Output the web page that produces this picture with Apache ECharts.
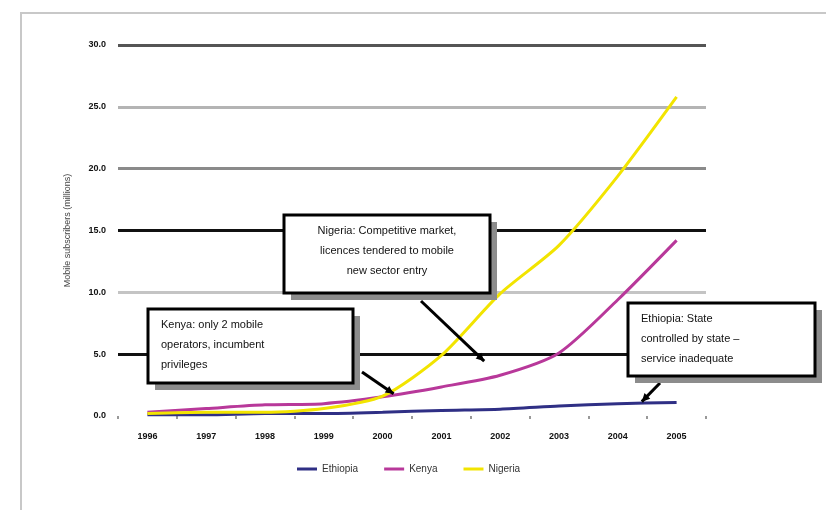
<!DOCTYPE html>
<html>
<head>
<meta charset="utf-8">
<script src="https://cdn.jsdelivr.net/npm/echarts@6/dist/echarts.min.js"></script>
<style>
  html, body { margin: 0; padding: 0; background: #fff; }
  #chart { width: 826px; height: 510px; }
</style>
</head>
<body>
<div id="chart"></div>
<script>
// Mobile subscribers, millions, 1996-2005
var years = ['1996', '1997', '1998', '1999', '2000', '2001', '2002', '2003', '2004', '2005'];
var ethiopia = [0.1, 0.1, 0.2, 0.2, 0.3, 0.45, 0.55, 0.8, 1.0, 1.1];
var kenya    = [0.3, 0.6, 0.9, 1.0, 1.55, 2.35, 3.3, 5.1, 9.4, 14.2];
var nigeria  = [0.2, 0.3, 0.3, 0.6, 1.6, 4.9, 9.9, 13.8, 19.4, 25.8];
var yTicks   = [0, 5, 10, 15, 20, 25, 30];
var seriesNames = ['Ethiopia', 'Kenya', 'Nigeria'];
var axisTitle = 'Mobile subscribers (millions)';

// Callout notes: text lines, alignment and which series/year the pointer refers to
var notes = [
  { lines: ['Kenya: only 2 mobile', 'operators, incumbent', 'privileges'], align: 'left',
    box: [148, 309, 205, 74], from: [362, 372], series: 1, year: '2000', off: [11, -3] },
  { lines: ['Nigeria: Competitive market,', 'licences tendered to mobile', 'new sector entry'], align: 'center',
    box: [284, 215, 206, 78], from: [421, 301], series: 1, year: '2002', off: [-16, -14] },
  { lines: ['Ethiopia: State', 'controlled by state \u2013', 'service inadequate'], align: 'left',
    box: [628, 303, 187, 73], from: [660, 383], series: 0, year: '2004', off: [24, -2] }
];

var colors = ['#2f2f85', '#b8389a', '#f2e400'];
var gridColors = ['rgba(0,0,0,0)', '#111111', '#c4c4c4', '#111111', '#8a8a8a', '#b4b4b4', '#555555'];
var seriesData = [ethiopia, kenya, nigeria];

var chart = echarts.init(document.getElementById('chart'), null, { renderer: 'canvas' });

var option = {
  animation: false,
  backgroundColor: '#ffffff',
  textStyle: { fontFamily: 'Liberation Sans, Arial, sans-serif' },
  grid: { left: 118, right: 120, top: 45, bottom: 94 },
  legend: {
    data: seriesNames,
    left: 292, top: 459,
    itemWidth: 20, itemHeight: 3, itemGap: 26,
    icon: 'rect',
    textStyle: { fontSize: 10, color: '#333' }
  },
  xAxis: {
    type: 'category',
    data: years,
    boundaryGap: true,
    axisLine: { show: false },
    axisTick: { show: true, length: 3, inside: false, lineStyle: { color: '#999', width: 2 } },
    axisLabel: { fontSize: 9, color: '#111', margin: 16, fontWeight: 'bold' }
  },
  yAxis: {
    type: 'value',
    min: yTicks[0], max: yTicks[yTicks.length - 1], interval: 5,
    name: axisTitle,
    nameLocation: 'middle',
    nameGap: 46,
    nameRotate: 90,
    nameTextStyle: { fontSize: 9, color: '#444' },
    axisLine: { show: false },
    axisTick: { show: false },
    axisLabel: {
      fontSize: 9, color: '#111', fontWeight: 'bold', margin: 12,
      formatter: function (v) { return v.toFixed(1); }
    },
    splitLine: { show: true, lineStyle: { color: gridColors, width: 3 } }
  },
  series: seriesNames.map(function (name, i) {
    return {
      name: name,
      type: 'line',
      data: seriesData[i],
      smooth: 0.25,
      showSymbol: false,
      symbol: 'none',
      lineStyle: { color: colors[i], width: 3 },
      itemStyle: { color: colors[i] },
      z: 3 + i
    };
  })
};

chart.setOption(option);

// Callout boxes with shadows and pointer arrows, tips anchored to data points
function buildNotes() {
  var els = [];
  // outer chart frame
  els.push({
    type: 'rect', z: 0, silent: true,
    shape: { x: 21, y: 13, width: 900, height: 600 },
    style: { fill: 'none', stroke: '#c8c8c8', lineWidth: 2 }
  });
  notes.forEach(function (n) {
    var p = chart.convertToPixel({ seriesIndex: n.series }, [n.year, seriesData[n.series][years.indexOf(n.year)]]);
    var tip = [p[0] + n.off[0], p[1] + n.off[1]];
    var b = n.box;
    // shadow
    els.push({
      type: 'rect', z: 10, silent: true,
      shape: { x: b[0] + 7, y: b[1] + 7, width: b[2], height: b[3] },
      style: { fill: '#8c8c8c' }
    });
    // box
    els.push({
      type: 'rect', z: 11, silent: true,
      shape: { x: b[0], y: b[1], width: b[2], height: b[3] },
      style: { fill: '#ffffff', stroke: '#000', lineWidth: 3 }
    });
    var tx = n.align === 'center' ? b[0] + b[2] / 2 : b[0] + 13;
    n.lines.forEach(function (t, k) {
      els.push({
        type: 'text', z: 12, silent: true,
        style: {
          x: tx, y: b[1] + 16 + k * 20, text: t,
          fill: '#111', fontSize: 11, fontFamily: 'Liberation Sans, Arial, sans-serif',
          align: n.align, verticalAlign: 'middle'
        }
      });
    });
    // pointer line
    els.push({
      type: 'line', z: 9, silent: true,
      shape: { x1: n.from[0], y1: n.from[1], x2: tip[0], y2: tip[1] },
      style: { stroke: '#000', lineWidth: 3 }
    });
    // arrow head
    var dx = tip[0] - n.from[0], dy = tip[1] - n.from[1];
    var len = Math.sqrt(dx * dx + dy * dy);
    var ux = dx / len, uy = dy / len;
    var s = 8, w = 4;
    els.push({
      type: 'polygon', z: 9, silent: true,
      shape: { points: [
        [tip[0], tip[1]],
        [tip[0] - ux * s - uy * w, tip[1] - uy * s + ux * w],
        [tip[0] - ux * s + uy * w, tip[1] - uy * s - ux * w]
      ] },
      style: { fill: '#000' }
    });
  });
  return els;
}

chart.setOption({ graphic: buildNotes() });
</script>
</body>
</html>
